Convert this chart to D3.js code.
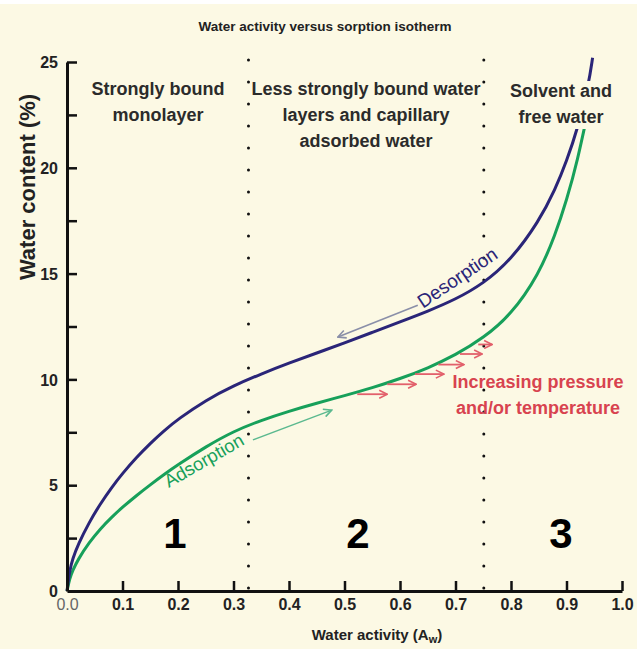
<!DOCTYPE html>
<html>
<head>
<meta charset="utf-8">
<script src="https://cdn.jsdelivr.net/npm/d3@7"></script>
<style>
  body { margin: 0; background: #fff; }
  text { font-family: "Liberation Sans", Arial, sans-serif; }
</style>
</head>
<body>
<div id="chart"></div>
<script>
// water activity values (x) and water content (%) for each branch
const activity = [0, 0.005, 0.01, 0.02, 0.04, 0.06, 0.08, 0.1, 0.125, 0.15, 0.175, 0.2, 0.25,
  0.3, 0.35, 0.4, 0.45, 0.5, 0.55, 0.6, 0.65, 0.7, 0.75, 0.8, 0.85, 0.88, 0.9, 0.92, 0.94, 0.947];
const desorption = [0, 1.0, 1.5, 2.2, 3.25, 4.12, 4.88, 5.56, 6.31, 6.98, 7.58, 8.12, 9.02,
  9.7, 10.26, 10.77, 11.25, 11.72, 12.22, 12.72, 13.22, 13.78, 14.52, 15.65, 17.45, 19.0, 20.3, 21.85, 23.95, 25.2];

const activityAds = [0, 0.005, 0.01, 0.02, 0.04, 0.06, 0.08, 0.1, 0.125, 0.15, 0.175, 0.2, 0.25,
  0.3, 0.35, 0.4, 0.45, 0.5, 0.55, 0.6, 0.65, 0.7, 0.75, 0.8, 0.85, 0.88, 0.9, 0.92, 0.94, 0.95];
const adsorption = [0, 0.6, 0.95, 1.5, 2.3, 2.94, 3.48, 3.96, 4.51, 5.02, 5.51, 5.97, 6.82,
  7.55, 8.07, 8.5, 8.88, 9.23, 9.6, 10.03, 10.53, 11.15, 11.95, 13.05, 14.95, 16.85, 18.45, 20.35, 22.85, 24.0];

const xTicks = [0, 0.1, 0.2, 0.3, 0.4, 0.5, 0.6, 0.7, 0.8, 0.9, 1.0];
const yTicks = [0, 2.5, 5, 7.5, 10, 12.5, 15, 17.5, 20, 22.5, 25];
const zoneBounds = [0.327, 0.751];

// short red arrows: [aw start, aw end, water content]
const pressureArrows = [
  [0.523, 0.577, 9.3],
  [0.577, 0.629, 9.77],
  [0.627, 0.679, 10.25],
  [0.669, 0.715, 10.7],
  [0.708, 0.748, 11.2],
  [0.741, 0.766, 11.65]
];

const W = 637, H = 649;
const navy = "#2a2578", green = "#17a05a", bg = "#fcf9e4";

const svg = d3.select("#chart").append("svg")
  .attr("width", W).attr("height", H);

svg.append("rect").attr("x", 0).attr("y", 4).attr("width", W).attr("height", H - 4)
  .attr("fill", bg);

const x = d3.scaleLinear().domain([0, 1]).range([67, 622]);
const y = d3.scaleLinear().domain([0, 25]).range([591, 62]);

const defs = svg.append("defs");
function marker(id, color, size) {
  defs.append("marker").attr("id", id)
    .attr("viewBox", "0 0 10 10").attr("refX", 9).attr("refY", 5)
    .attr("markerWidth", size).attr("markerHeight", size)
    .attr("markerUnits", "userSpaceOnUse")
    .attr("orient", "auto")
    .append("path").attr("d", "M1,1 L9,5 L1,9")
    .attr("fill", "none").attr("stroke", color).attr("stroke-width", 1.6);
}
marker("arrRed", "#e2606b", 10);
marker("arrGray", "#8a8fa8", 10);
marker("arrGreen", "#5bb98f", 10);

// title
svg.append("text").attr("x", 325).attr("y", 31).attr("text-anchor", "middle")
  .attr("font-size", 13.5).attr("font-weight", "bold").attr("fill", "#222")
  .text("Water activity versus sorption isotherm");

// zone dividers
svg.selectAll(".zone").data(zoneBounds).join("line")
  .attr("class", "zone")
  .attr("x1", d => x(d)).attr("x2", d => x(d))
  .attr("y1", y(25) - 2).attr("y2", y(0))
  .attr("stroke", "#111").attr("stroke-width", 3)
  .attr("stroke-linecap", "round").attr("stroke-dasharray", "0,22");

// curves
const line = d3.line().curve(d3.curveBasis);
svg.append("path")
  .attr("d", line(activityAds.map((a, i) => [x(a), y(adsorption[i])])))
  .attr("fill", "none").attr("stroke", green).attr("stroke-width", 3);
svg.append("path")
  .attr("d", line(activity.map((a, i) => [x(a), y(desorption[i])])))
  .attr("fill", "none").attr("stroke", navy).attr("stroke-width", 3);

// axes
const yAxis = d3.axisLeft(y).tickValues(yTicks).tickSizeInner(-10).tickSizeOuter(0)
  .tickPadding(9).tickFormat(d => d % 5 === 0 ? d : "");
const xAxis = d3.axisBottom(x).tickValues(xTicks).tickSizeInner(-10).tickSizeOuter(0)
  .tickPadding(8).tickFormat(d3.format(".1f"));

const gy = svg.append("g").attr("transform", `translate(${x(0)},0)`).call(yAxis);
const gx = svg.append("g").attr("transform", `translate(0,${y(0)})`).call(xAxis);

[gx, gy].forEach(g => {
  g.select(".domain").attr("stroke", "#111").attr("stroke-width", 3);
  g.selectAll(".tick line").attr("stroke", "#111").attr("stroke-width", 2.5);
  g.selectAll(".tick text").attr("font-size", 16).attr("font-weight", "bold")
    .attr("fill", "#222").attr("font-family", "Liberation Sans, Arial, sans-serif");
});
gx.selectAll(".tick").filter(d => d === 0).select("line").remove();
gx.selectAll(".tick").filter(d => d === 0).select("text")
  .attr("font-weight", "normal").attr("fill", "#666");
gy.selectAll(".tick").filter(d => d === 0).select("line").remove();
gy.selectAll(".tick text").attr("dy", "0.36em");

// axis titles
svg.append("text")
  .attr("transform", "translate(35,187) rotate(-90)")
  .attr("text-anchor", "middle").attr("font-size", 22).attr("font-weight", "bold")
  .attr("fill", "#222").text("Water content (%)");

const xt = svg.append("text").attr("x", 377).attr("y", 640).attr("text-anchor", "middle")
  .attr("font-size", 15).attr("font-weight", "bold").attr("fill", "#222");
xt.append("tspan").text("Water activity (A");
xt.append("tspan").attr("font-size", 11).attr("dy", 3).text("w");
xt.append("tspan").attr("dy", -3).text(")");

// zone labels
function block(lines, cx, y0, hide) {
  const t = svg.append("text").attr("text-anchor", "middle")
    .attr("font-size", 18).attr("font-weight", "bold").attr("fill", "#2b2b2b");
  lines.forEach((l, i) => t.append("tspan").attr("x", cx).attr("y", y0 + i * 26).text(l));
  if (hide) {
    const b = t.node().getBBox();
    svg.insert("rect", () => t.node())
      .attr("x", b.x - 2).attr("y", b.y).attr("width", b.width + 4).attr("height", b.height + 2)
      .attr("fill", bg);
  }
}
block(["Strongly bound", "monolayer"], 158, 95, false);
block(["Less strongly bound water", "layers and capillary", "adsorbed water"], 366, 95, false);
block(["Solvent and", "free water"], 561, 97, true);

// zone numbers
svg.selectAll(".num").data(["1", "2", "3"]).join("text")
  .attr("class", "num")
  .attr("x", (d, i) => [175, 358, 561][i]).attr("y", 548)
  .attr("text-anchor", "middle")
  .attr("font-family", "Liberation Serif, Times New Roman, serif")
  .attr("font-size", 42).attr("font-weight", "bold").attr("fill", "#000")
  .text(d => d);

// curve labels
svg.append("text").attr("transform", "translate(461,283) rotate(-34)")
  .attr("text-anchor", "middle").attr("font-size", 19).attr("fill", navy)
  .text("Desorption");
svg.append("text").attr("transform", "translate(207,466) rotate(-30)")
  .attr("text-anchor", "middle").attr("font-size", 18.5).attr("fill", green)
  .text("Adsorption");

// direction arrows
svg.append("line")
  .attr("x1", x(0.632)).attr("y1", y(13.5)).attr("x2", x(0.488)).attr("y2", y(12.0))
  .attr("stroke", "#8a8fa8").attr("stroke-width", 1.6).attr("marker-end", "url(#arrGray)");
svg.append("line")
  .attr("x1", x(0.335)).attr("y1", y(7.14)).attr("x2", x(0.477)).attr("y2", y(8.55))
  .attr("stroke", "#5bb98f").attr("stroke-width", 1.4).attr("marker-end", "url(#arrGreen)");

svg.selectAll(".parr").data(pressureArrows).join("line")
  .attr("class", "parr")
  .attr("x1", d => x(d[0])).attr("x2", d => x(d[1]))
  .attr("y1", d => y(d[2])).attr("y2", d => y(d[2]))
  .attr("stroke", "#e2606b").attr("stroke-width", 1.8)
  .attr("marker-end", "url(#arrRed)");

const red = svg.append("text").attr("text-anchor", "middle")
  .attr("font-size", 18).attr("font-weight", "bold").attr("fill", "#d8434f");
red.append("tspan").attr("x", 538).attr("y", 388).text("Increasing pressure");
red.append("tspan").attr("x", 538).attr("y", 414).text("and/or temperature");
</script>
</body>
</html>
